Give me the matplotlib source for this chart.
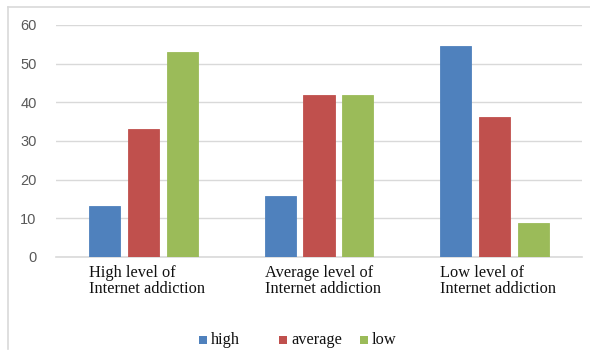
import matplotlib
matplotlib.use('Agg')
import matplotlib.pyplot as plt
from matplotlib.patches import Rectangle
from matplotlib.lines import Line2D
import numpy as np

groups = ['High level of\nInternet addiction',
          'Average level of\nInternet addiction',
          'Low level of\nInternet addiction']
series = ['high', 'average', 'low']
high = [13.3, 15.8, 54.5]
average = [33.1, 41.9, 36.2]
low = [53.1, 41.9, 8.9]
colors = ['#4F81BD', '#C0504D', '#9BBB59']
yticks = [0, 10, 20, 30, 40, 50, 60]

W, H = 590, 357
fig = plt.figure(figsize=(W / 100, H / 100), dpi=100)
fig.patch.set_facecolor('white')

# outer chart frame (top and left edges only)
fig.add_artist(Line2D([8 / W, 1], [1 - 7 / H, 1 - 7 / H], color='#d9d9d9', lw=1.2))
fig.add_artist(Line2D([8 / W, 8 / W], [1 - 7 / H, 8 / H], color='#d9d9d9', lw=1.2))

ax = fig.add_axes([56 / W, 100 / H, 526 / W, 232 / H])
x = np.arange(len(groups))
step = 0.222
width = 0.177
for i, (vals, c) in enumerate(zip([high, average, low], colors)):
    ax.bar(x + (i - 1) * step, vals, width, color=c, edgecolor=c, lw=0.6, zorder=3)

ax.set_xlim(-0.5, 2.5)
ax.set_ylim(0, 60)
ax.set_yticks(yticks)
ax.yaxis.grid(True, color='#d9d9d9', lw=1, zorder=0)
ax.tick_params(axis='y', length=0, pad=14, labelsize=10.5, labelcolor='#595959')
for lab in ax.get_yticklabels():
    lab.set_fontfamily('Liberation Sans')
ax.set_xticks([])
for s in ['top', 'right', 'left']:
    ax.spines[s].set_visible(False)
ax.spines['bottom'].set_color('#d9d9d9')
ax.spines['bottom'].set_linewidth(1.2)

# category labels, left aligned under the first bar of each group
for xi, g in zip(x, groups):
    ax.text(xi - step - width / 2, -2.0, g, ha='left', va='top',
            fontfamily='Liberation Serif', fontsize=11.8, linespacing=1.05,
            color='#111111', transform=ax.transData)

# legend
leg_x = [199, 279, 360]
for lx, name, c in zip(leg_x, series, colors):
    fig.add_artist(Rectangle((lx / W, (H - 344) / H), 8 / W, 8 / H,
                             facecolor=c, edgecolor='none'))
    fig.text((lx + 12) / W, (H - 340) / H, name, ha='left', va='center',
             fontfamily='Liberation Serif', fontsize=11.8, color='#111111')

fig.savefig('out.png', dpi=100)
